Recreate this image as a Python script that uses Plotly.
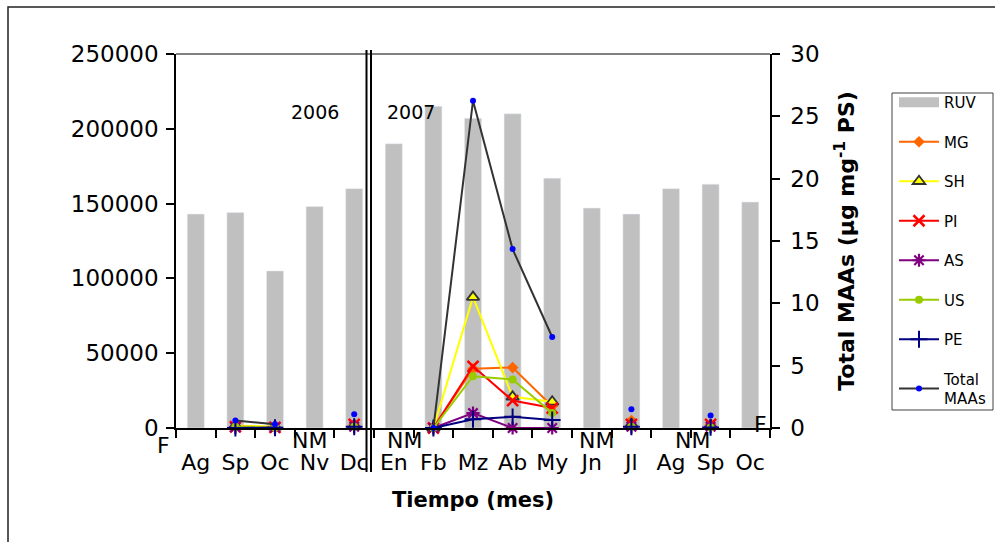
import plotly.graph_objects as go

# Months of sampling (Aug 2006 - Oct 2007)
months = ["Ag", "Sp", "Oc", "Nv", "Dc", "En", "Fb", "Mz", "Ab", "My", "Jn", "Jl", "Ag", "Sp", "Oc"]

# UV radiation (left axis)
ruv = [143000, 144000, 105000, 148000, 160000, 190000, 215000, 207000,
       210000, 167000, 147000, 143000, 160000, 163000, 151000]

# MAA content per compound (ug mg-1 PS, right axis); None = not sampled
N = None
mg = [N, 0.15, 0.05, N, 0.30, N, 0, 4.75, 4.85, 1.75, N, 0.60, N, 0.30, N]
sh = [N, 0.20, 0.10, N, 0.20, N, 0, 10.5, 2.50, 2.10, N, 0.30, N, 0.20, N]
pi = [N, 0.10, 0.05, N, 0.30, N, 0, 4.95, 2.20, 1.60, N, 0.30, N, 0.30, N]
as_ = [N, 0.05, 0.03, N, 0.10, N, 0, 1.20, 0.00, 0.00, N, 0.10, N, 0.10, N]
us = [N, 0.10, 0.05, N, 0.10, N, 0, 4.15, 3.90, 1.20, N, 0.10, N, 0.05, N]
pe = [N, 0.00, 0.02, N, 0.10, N, 0, 0.70, 0.90, 0.65, N, 0.10, N, 0.05, N]
total = [N, 0.60, 0.30, N, 1.10, N, 0, 26.25, 14.35, 7.30, N, 1.50, N, 1.00, N]

# Labels for months without samples
gap_labels = [("F", 163, 445), ("NM", 309, 441), ("NM", 404, 441),
              ("NM", 596, 441), ("NM", 692, 441), ("F", 760, 424)]
years = [("2006", 315, 112), ("2007", 411, 112)]

FONT = "DejaVu Sans"
TICK = 23
BAR_COLOR = "#C0C0C0"
x = list(range(len(months)))

# plot-area pixel frame used to convert label positions to paper coords
L, R, T, B = 176, 770, 54, 428
W, H = 995, 542


def px(xp):
    return (xp - L) / (R - L)


def py(yp):
    return (B - yp) / (B - T)


fig = go.Figure()
fig.add_trace(go.Bar(x=x, y=ruv, name="RUV", marker_color=BAR_COLOR,
                     width=0.43, yaxis="y", legendgroup="g0", showlegend=False))
# wide grey swatch for the RUV legend entry
fig.add_trace(go.Scatter(x=[None], y=[None], name="RUV", mode="lines",
                         line=dict(color=BAR_COLOR, width=11),
                         legendgroup="g0", hoverinfo="skip"))

series = [
    ("MG", mg, "#FF6600", dict(symbol="diamond", size=9, color="#FF6600")),
    ("SH", sh, "#FFFF00", dict(symbol="triangle-up", size=11, color="#FFFF00",
                               line=dict(color="#333333", width=1.8))),
    ("PI", pi, "#FF0000", dict(symbol="x-thin-open", size=11, color="#FF0000",
                               line=dict(color="#FF0000", width=2.5))),
    ("AS", as_, "#800080", dict(symbol="asterisk-open", size=11, color="#800080",
                                line=dict(color="#800080", width=2.2))),
    ("US", us, "#99CC00", dict(symbol="circle", size=8, color="#99CC00")),
    ("PE", pe, "#000080", dict(symbol="cross-thin-open", size=12, color="#000080",
                               line=dict(color="#000080", width=2))),
    ("Total<br>MAAs", total, "#333333", dict(symbol="circle", size=6, color="#0000FF")),
]
for i, (name, vals, col, mk) in enumerate(series):
    fig.add_trace(go.Scatter(x=x, y=vals, name=name, mode="lines+markers",
                             line=dict(color=col, width=2), marker=mk,
                             yaxis="y2", legendgroup=f"g{i+1}", cliponaxis=False))

shapes = [
    # outer chart frame
    dict(type="rect", xref="paper", yref="paper", x0=px(8), x1=px(1100),
         y0=py(700), y1=py(7), line=dict(color="#222222", width=1.5)),
    # top border of plot area
    dict(type="line", xref="paper", yref="paper", x0=0, x1=1, y0=1, y1=1,
         line=dict(color="#808080", width=2)),
    # legend frame
    dict(type="rect", xref="paper", yref="paper", x0=px(892), x1=px(993),
         y0=py(410), y1=py(93), line=dict(color="#404040", width=1)),
]
# double line separating the two years
for xl in (366.5, 371):
    shapes.append(dict(type="line", xref="paper", yref="paper",
                       x0=px(xl), x1=px(xl), y0=py(472), y1=py(50),
                       line=dict(color="black", width=2)))

annotations = []
for txt, xp, yp in gap_labels:
    annotations.append(dict(text=txt, x=px(xp), y=py(yp), xref="paper", yref="paper",
                            showarrow=False, xanchor="center", yanchor="middle",
                            font=dict(size=22, color="black", family=FONT)))
for txt, xp, yp in years:
    annotations.append(dict(text=txt, x=px(xp), y=py(yp), xref="paper", yref="paper",
                            showarrow=False, xanchor="center", yanchor="middle",
                            font=dict(size=19, color="black", family=FONT)))

fig.update_layout(
    width=W, height=H,
    margin=dict(l=L, r=W - R, t=T, b=H - B, autoexpand=False),
    paper_bgcolor="white", plot_bgcolor="white",
    font=dict(family=FONT, color="black"),
    showlegend=True,
    xaxis=dict(range=[-0.5, len(months) - 0.5], tickvals=x, ticktext=months,
               ticks="", showgrid=False, zeroline=False, automargin=False,
               showline=True, linecolor="black", linewidth=1.5,
               tickfont=dict(size=22), ticklabelstandoff=14,
               minor=dict(tickvals=[i - 0.5 for i in range(len(months) + 1)],
                          ticks="outside", ticklen=8, tickcolor="black", tickwidth=1.5),
               title=dict(text="<b>Tiempo (mes)</b>", font=dict(size=21), standoff=18)),
    yaxis=dict(range=[0, 250000], dtick=50000, tickformat="d", automargin=False,
               ticks="outside", ticklen=8, tickcolor="black", tickwidth=1.5,
               showline=True, linecolor="black", linewidth=1.5, ticklabelstandoff=3,
               showgrid=False, zeroline=False, tickfont=dict(size=TICK)),
    yaxis2=dict(range=[0, 30], dtick=5, overlaying="y", side="right", anchor="x",
                automargin=False, ticklabelstandoff=6,
                ticks="outside", ticklen=8, tickcolor="black", tickwidth=1.5,
                showline=True, linecolor="black", linewidth=1.5,
                showgrid=False, zeroline=False, tickfont=dict(size=TICK),
                title=dict(text="<b>Total MAAs (µg mg<sup>-1</sup> PS)</b>",
                           font=dict(size=22), standoff=20)),
    yaxis3=dict(range=[0, 30], dtick=5, overlaying="y", side="right", anchor="x",
                automargin=False,
                ticks="inside", ticklen=7, tickcolor="black", tickwidth=1.5,
                showticklabels=False, showline=False, showgrid=False, zeroline=False),
    legend=dict(x=px(894), y=py(86), xanchor="left", yanchor="top",
                borderwidth=0, bgcolor="rgba(0,0,0,0)",
                font=dict(size=15), tracegroupgap=17, traceorder="grouped",
                itemwidth=40),
    shapes=shapes,
    annotations=annotations,
)

fig.write_html("out.html")
